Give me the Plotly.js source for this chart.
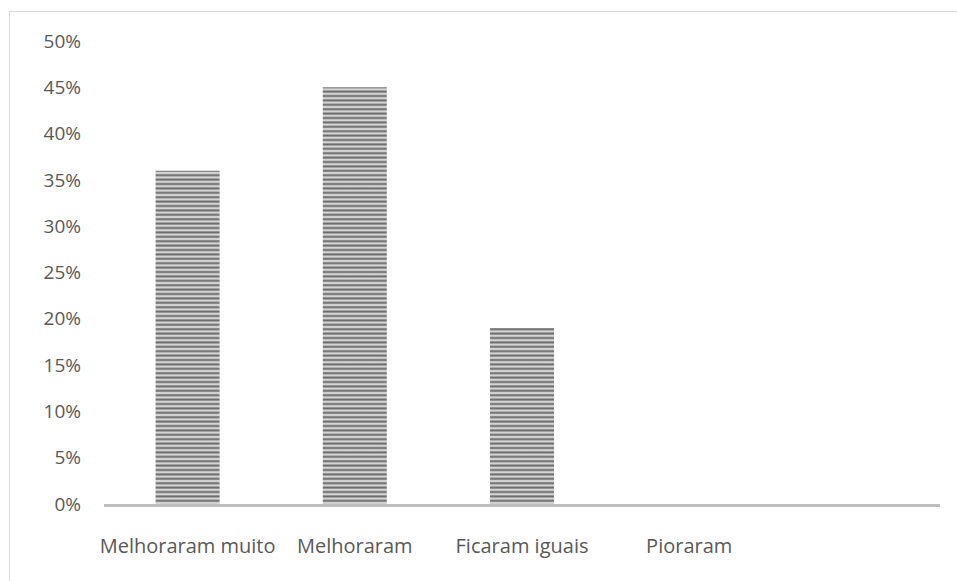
<!DOCTYPE html>
<html>
<head>
<meta charset="utf-8">
<script src="https://cdn.plot.ly/plotly-3.0.1.min.js"></script>
<style>
  html, body { margin: 0; padding: 0; background: #ffffff; }
  #wrap { position: relative; width: 957px; height: 581px; overflow: hidden; }
  #chart { width: 957px; height: 581px; }
  #frame {
    position: absolute; left: 9px; top: 11px; width: 960px; height: 600px;
    border: 1px solid #d9d9d9; pointer-events: none; box-sizing: border-box;
  }
</style>
</head>
<body>
<div id="wrap">
  <div id="chart"></div>
  <div id="frame"></div>
</div>
<script>
// Categories (the last slot is left empty on purpose)
const categories = ["Melhoraram muito", "Melhoraram", "Ficaram iguais", "Pioraram", " "];
// Share of responses per category
const values = [0.36, 0.45, 0.19, 0, null];
// Y axis ticks
const tickValues = [0, 0.05, 0.10, 0.15, 0.20, 0.25, 0.30, 0.35, 0.40, 0.45, 0.50];
const tickLabels = ["0%", "5%", "10%", "15%", "20%", "25%", "30%", "35%", "40%", "45%", "50%"];

const trace = {
  type: "bar",
  x: categories,
  y: values,
  marker: {
    color: "#d4d4d4",
    line: { width: 0 },
    pattern: { shape: "-", fgcolor: "#6b6b6b", bgcolor: "#d4d4d4", size: 4.4, solidity: 0.45, fillmode: "replace" }
  },
  hoverinfo: "none"
};

const layout = {
  width: 957,
  height: 581,
  margin: { l: 104, r: 17, t: 41, b: 77 },
  paper_bgcolor: "#ffffff",
  plot_bgcolor: "#ffffff",
  bargap: 0.617,
  showlegend: false,
  font: { family: "Open Sans, sans-serif", color: "#595959", size: 19 },
  xaxis: {
    type: "category",
    showgrid: false,
    zeroline: false,
    showline: true,
    linecolor: "#bfbfbf",
    linewidth: 3,
    ticks: "",
    ticklabelstandoff: 22,
    tickfont: { size: 20, color: "#595959" },
    fixedrange: true
  },
  yaxis: {
    range: [0, 0.5],
    tickvals: tickValues,
    ticktext: tickLabels,
    showgrid: false,
    zeroline: false,
    showline: false,
    ticks: "",
    ticklabelstandoff: 22,
    tickfont: { size: 19, color: "#595959" },
    fixedrange: true
  }
};

Plotly.newPlot("chart", [trace], layout, { displayModeBar: false, staticPlot: true });
</script>
</body>
</html>
